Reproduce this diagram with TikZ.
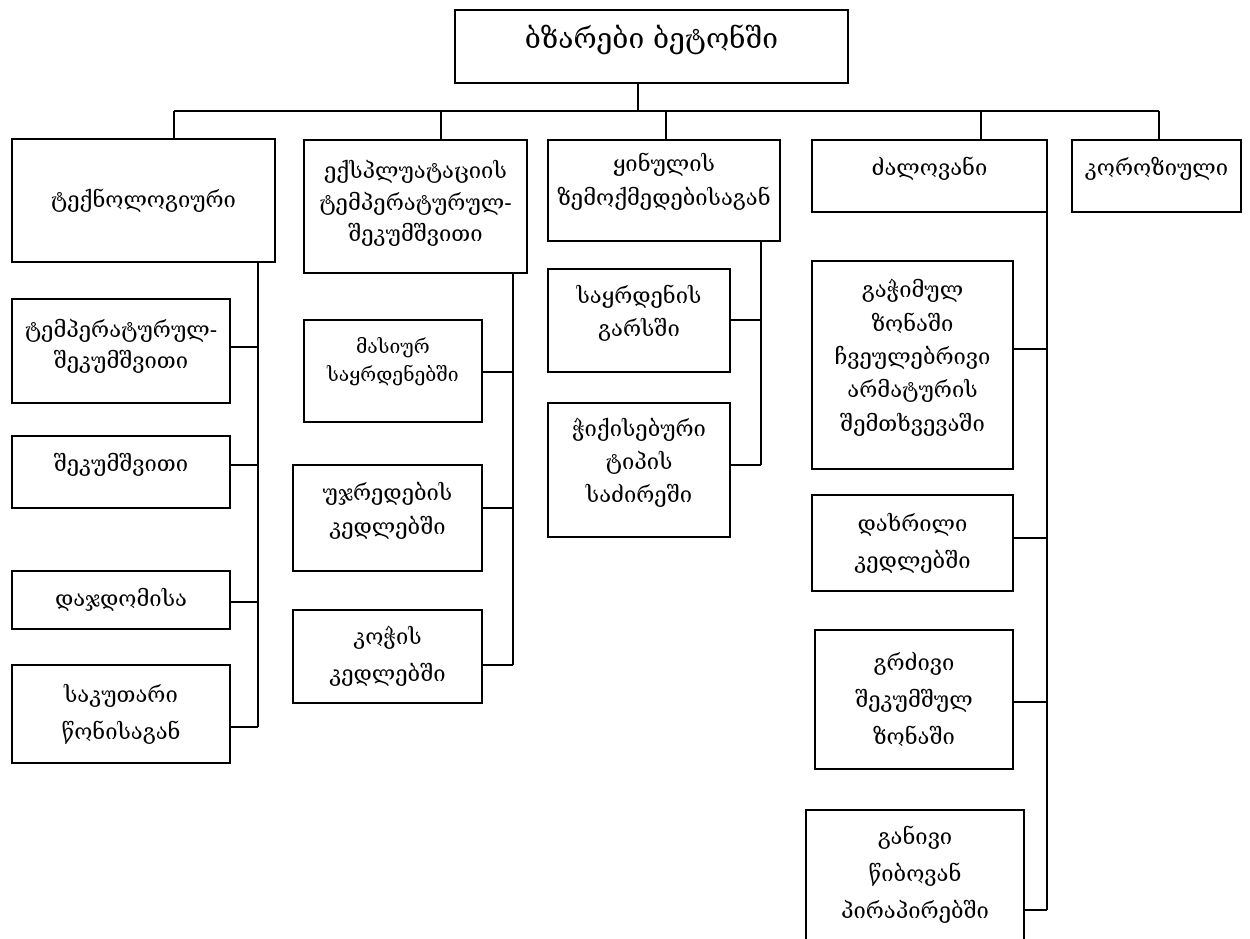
\documentclass[tikz,border=0pt]{standalone}
\usepackage{fontspec}
\setmainfont{DejaVu Serif}

\begin{document}
\begin{tikzpicture}[x=0.02cm,y=-0.02cm,line width=1pt]
        \tikzstyle{box}=[draw, line width=1.1pt, align=center, inner sep=2pt, font=\fontsize{12.5}{19}\selectfont]
        \tikzset{lift/.style={text depth=#1}, wide/.style={font=\fontsize{12.5}{21}\selectfont}}
        \clip (0,0) rectangle (1250,938);

        \node[box, minimum width=7.86cm, minimum height=1.46cm, font=\fontsize{16}{20}\selectfont, lift=11pt] (top) at (651.5,46.5) {ბზარები ბეტონში};

        \node[box, minimum width=5.26cm, minimum height=2.46cm] (A) at (143.5,200.5) {ტექნოლოგიური};
        \node[box, minimum width=4.46cm, minimum height=2.66cm, font=\fontsize{12.5}{18}\selectfont, lift=6pt] (B) at (415.5,206.5) {ექსპლუატაციის\\ტემპერატურულ-\\შეკუმშვითი};
        \node[box, minimum width=4.64cm, minimum height=2.02cm, lift=13pt] (C) at (664,190.5)   {ყინულის\\ზემოქმედებისაგან};
        \node[box, minimum width=4.70cm, minimum height=1.44cm, lift=11pt] (D) at (929.5,176)   {ძალოვანი};
        \node[box, minimum width=3.38cm, minimum height=1.44cm, lift=11pt] (E) at (1156.5,176)  {კოროზიული};

        \node[box, minimum width=4.36cm, minimum height=2.08cm, font=\fontsize{12.5}{17.5}\selectfont, lift=8.5pt] (A1) at (121,351) {ტემპერატურულ-\\შეკუმშვითი};
        \node[box, minimum width=4.36cm, minimum height=1.44cm, lift=11pt] (A2) at (121,472) {შეკუმშვითი};
        \node[box, minimum width=4.36cm, minimum height=1.16cm] (A3) at (121,600) {დაჯდომისა};
        \node[box, wide, minimum width=4.36cm, minimum height=1.96cm] (A4) at (121,714) {საკუთარი\\წონისაგან};

        \node[box, minimum width=3.56cm, minimum height=2.04cm, font=\fontsize{11}{15.5}\selectfont, lift=13pt] (B1) at (393,371) {მასიურ\\საყრდენებში};
        \node[box, minimum width=3.78cm, minimum height=2.12cm, lift=11pt] (B2) at (387.5,518)   {უჯრედების\\კედლებში};
        \node[box, wide, minimum width=3.78cm, minimum height=1.86cm] (B3) at (387.5,656.5) {კოჭის\\კედლებში};

        \node[box, minimum width=3.64cm, minimum height=2.06cm, lift=11pt] (C1) at (639,320.5) {საყრდენის\\გარსში};
        \node[box, minimum width=3.64cm, minimum height=2.68cm, lift=11pt] (C2) at (639,470)   {ჭიქისებური\\ტიპის\\საძირეში};

        \node[box, minimum width=4.02cm, minimum height=4.16cm, lift=11pt] (D1) at (912.5,365) {გაჭიმულ\\ზონაში\\ჩვეულებრივი\\არმატურის\\შემთხვევაში};
        \node[box, wide, minimum width=4.02cm, minimum height=1.92cm] (D2) at (912.5,543) {დახრილი\\კედლებში};
        \node[box, wide, minimum width=3.96cm, minimum height=2.78cm] (D3) at (914,699.5) {გრძივი\\შეკუმშულ\\ზონაში};
        \node[box, wide, minimum width=4.36cm, minimum height=2.60cm] (D4) at (915,875)   {განივი\\წიბოვან\\პირაპირებში};

        % bus under the title
        \coordinate (bus) at (638,111);
        \draw (top.south -| bus) -- (bus);
        \draw (174,111) coordinate (bA) -- (1159,111) coordinate (bE);
        \coordinate (bB) at (441,111);
        \coordinate (bC) at (666,111);
        \coordinate (bD) at (981,111);
        \foreach \n in {A,B,C,D,E}
            \draw (b\n) -- (\n.north -| b\n);

        % spines
        \coordinate (sA) at (258,727);
        \coordinate (sB) at (513,665);
        \coordinate (sC) at (761,465);
        \coordinate (sD) at (1047,910);
        \foreach \n in {A,B,C,D}
            \draw (\n.south -| s\n) -- (s\n);

        \foreach \n/\s/\y in {A1/A/347,A2/A/465,A3/A/602,A4/A/727,B1/B/372,B2/B/508,B3/B/665,C1/C/320,C2/C/465,D1/D/349,D2/D/538,D3/D/702,D4/D/910}
            \draw (\n.east |- 0,\y) -- (s\s |- 0,\y);
\end{tikzpicture}
\end{document}
